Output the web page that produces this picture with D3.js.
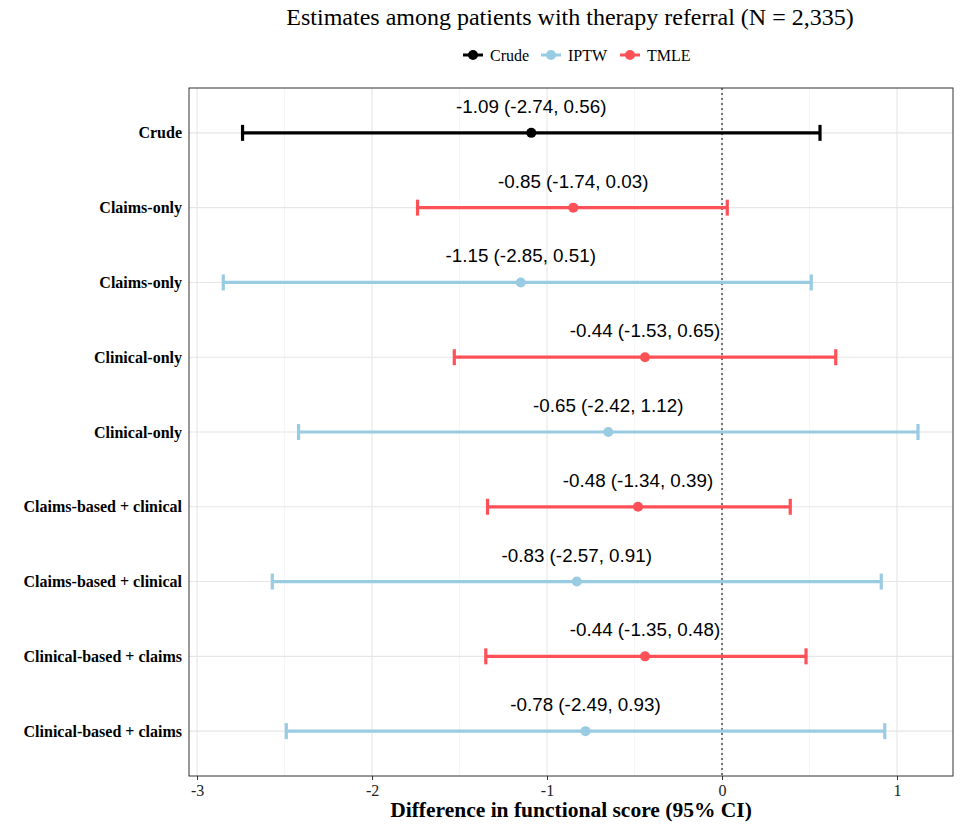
<!DOCTYPE html>
<html>
<head>
<meta charset="utf-8">
<script src="https://cdn.jsdelivr.net/npm/d3@7"></script>
<style>
  body { margin: 0; background: #fff; }
</style>
</head>
<body>
<svg id="chart" width="961" height="828"></svg>
<script>
// data, top row to bottom row
const rowLabels = ["Crude", "Claims-only", "Claims-only", "Clinical-only", "Clinical-only",
  "Claims-based + clinical", "Claims-based + clinical", "Clinical-based + claims", "Clinical-based + claims"];
const methods = ["Crude", "TMLE", "IPTW", "TMLE", "IPTW", "TMLE", "IPTW", "TMLE", "IPTW"];
const estimates = [-1.09, -0.85, -1.15, -0.44, -0.65, -0.48, -0.83, -0.44, -0.78];
const lower = [-2.74, -1.74, -2.85, -1.53, -2.42, -1.34, -2.57, -1.35, -2.49];
const upper = [0.56, 0.03, 0.51, 0.65, 1.12, 0.39, 0.91, 0.48, 0.93];
const xTicks = [-3, -2, -1, 0, 1];
const legendKeys = ["Crude", "IPTW", "TMLE"];

const colors = { Crude: "#000000", IPTW: "#99CCE2", TMLE: "#FD5157" };

const svg = d3.select("#chart");
const panel = { left: 189, right: 953, top: 88, bottom: 776 };
const serif = "'Liberation Serif', 'Times New Roman', serif";
const sans = "'Liberation Sans', Arial, sans-serif";

const rows = rowLabels.map((d, i) => ({
  label: d, method: methods[i], est: estimates[i], lo: lower[i], hi: upper[i], idx: i
}));

const x = d3.scaleLinear().domain([-3.046, 1.32]).range([panel.left, panel.right]);
const y = d3.scalePoint().domain(d3.range(rows.length)).range([panel.top, panel.bottom]).padding(0.6);

// grid: minor then major
const minor = d3.range(-2.5, 1.5, 1);
svg.append("g").selectAll("line").data(minor).join("line")
  .attr("x1", d => x(d)).attr("x2", d => x(d))
  .attr("y1", panel.top).attr("y2", panel.bottom)
  .attr("stroke", "#f0f0f0").attr("stroke-width", 0.6);
svg.append("g").selectAll("line").data(xTicks).join("line")
  .attr("x1", d => x(d)).attr("x2", d => x(d))
  .attr("y1", panel.top).attr("y2", panel.bottom)
  .attr("stroke", "#e6e6e6").attr("stroke-width", 1.1);
svg.append("g").selectAll("line").data(rows).join("line")
  .attr("x1", panel.left).attr("x2", panel.right)
  .attr("y1", d => y(d.idx)).attr("y2", d => y(d.idx))
  .attr("stroke", "#e6e6e6").attr("stroke-width", 1.1);

// zero reference
svg.append("line")
  .attr("x1", x(0)).attr("x2", x(0))
  .attr("y1", panel.top).attr("y2", panel.bottom)
  .attr("stroke", "#222").attr("stroke-width", 1.2)
  .attr("stroke-dasharray", "2,3");

// error bars
const bars = svg.append("g").selectAll("g").data(rows).join("g")
  .attr("stroke", d => colors[d.method]).attr("stroke-width", 3.2);
bars.append("line")
  .attr("x1", d => x(d.lo)).attr("x2", d => x(d.hi))
  .attr("y1", d => y(d.idx)).attr("y2", d => y(d.idx));
bars.append("line")
  .attr("x1", d => x(d.lo)).attr("x2", d => x(d.lo))
  .attr("y1", d => y(d.idx) - 8).attr("y2", d => y(d.idx) + 8);
bars.append("line")
  .attr("x1", d => x(d.hi)).attr("x2", d => x(d.hi))
  .attr("y1", d => y(d.idx) - 8).attr("y2", d => y(d.idx) + 8);

svg.append("g").selectAll("circle").data(rows).join("circle")
  .attr("cx", d => x(d.est)).attr("cy", d => y(d.idx)).attr("r", 5)
  .attr("fill", d => colors[d.method]);

// value labels (plain hyphen minus like R prints)
const fmt = v => v.toFixed(2);
svg.append("g").selectAll("text").data(rows).join("text")
  .attr("x", d => x(d.est)).attr("y", d => y(d.idx) - 20)
  .attr("text-anchor", "middle")
  .attr("font-family", sans).attr("font-size", 18.8).attr("fill", "#000")
  .text(d => `${fmt(d.est)} (${fmt(d.lo)}, ${fmt(d.hi)})`);

// panel border
svg.append("rect")
  .attr("x", panel.left).attr("y", panel.top)
  .attr("width", panel.right - panel.left).attr("height", panel.bottom - panel.top)
  .attr("fill", "none").attr("stroke", "#333").attr("stroke-width", 1);

// x axis
const xAxis = svg.append("g")
  .attr("transform", `translate(0,${panel.bottom})`)
  .call(d3.axisBottom(x).tickValues(xTicks).tickSize(4).tickFormat(d => String(d)));
xAxis.select(".domain").remove();
xAxis.selectAll("line").attr("stroke", "#333");
xAxis.selectAll("text").attr("font-family", serif).attr("font-size", 16)
  .attr("fill", "#222").attr("dy", "0.8em");

// y labels
svg.append("g").selectAll("text").data(rows).join("text")
  .attr("x", panel.left - 7).attr("y", d => y(d.idx))
  .attr("dy", "0.35em").attr("text-anchor", "end")
  .attr("font-family", serif).attr("font-weight", "bold").attr("font-size", 16)
  .text(d => d.label);

// titles
svg.append("text")
  .attr("x", (panel.left + panel.right) / 2 - 1).attr("y", 25)
  .attr("text-anchor", "middle")
  .attr("font-family", serif).attr("font-size", 24)
  .text("Estimates among patients with therapy referral (N = 2,335)");

svg.append("text")
  .attr("x", (panel.left + panel.right) / 2).attr("y", 817)
  .attr("text-anchor", "middle")
  .attr("font-family", serif).attr("font-weight", "bold").attr("font-size", 21.5)
  .text("Difference in functional score (95% CI)");

// legend
const legendX = [463, 541, 620];
const legend = svg.append("g").selectAll("g").data(legendKeys).join("g")
  .attr("transform", (d, i) => `translate(${legendX[i]},55)`);
legend.append("line").attr("x1", 0).attr("x2", 20)
  .attr("stroke", d => colors[d]).attr("stroke-width", 3);
legend.append("circle").attr("cx", 10).attr("r", 5).attr("fill", d => colors[d]);
legend.append("text").attr("x", 27).attr("dy", "0.35em")
  .attr("font-family", serif).attr("font-size", 16).text(d => d);
</script>
</body>
</html>
